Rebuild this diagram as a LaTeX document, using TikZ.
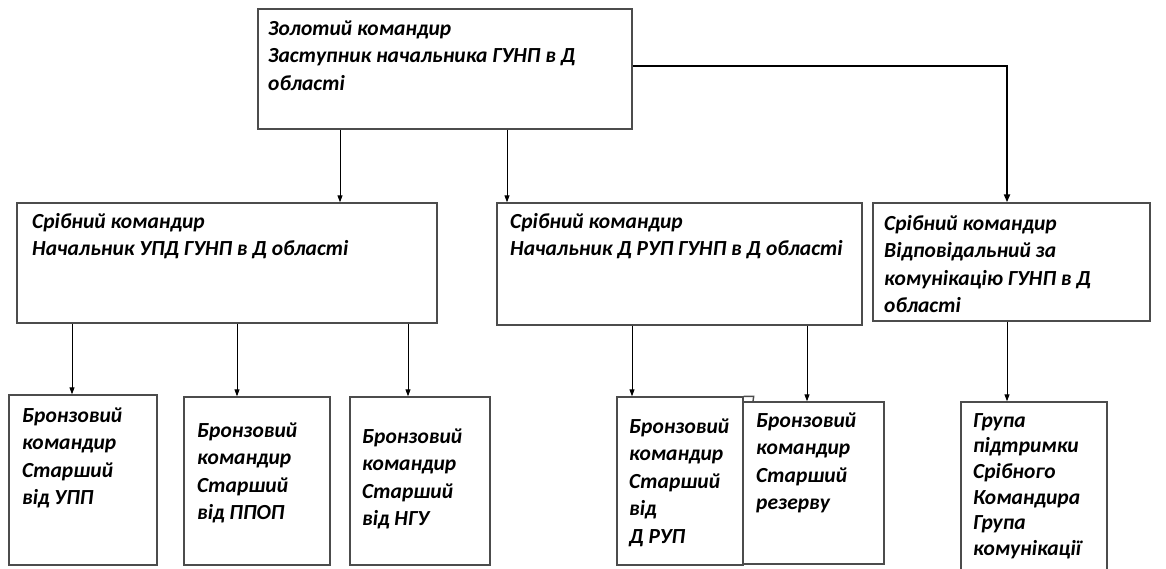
\documentclass[tikz,border=0pt]{standalone}
\usepackage{fontspec}
\setmainfont{Carlito}
\usetikzlibrary{fit,calc,arrows.meta}
\newcommand{\fl}{\rule{0pt}{16pt}}
\begin{document}
\begin{tikzpicture}[x=1pt,y=-1pt,
  box/.style={draw=black!70,line width=1.4pt,inner sep=0pt,fill=none},
  txt/.style={anchor=north west,inner sep=0pt,align=left,font=\fontsize{21.5}{27.5}\selectfont\bfseries\itshape,text=black},
  arr/.style={draw=black,line width=0.9pt,-{Triangle[length=7pt,width=5pt]}},
  thick arr/.style={draw=black,line width=2.4pt,-{Triangle[length=8pt,width=6pt]}}]
\useasboundingbox (0,0) rectangle (1166,568);
% boxes
\node[box,fit={(258,9) (632,129)}] (G) {};
\node[box,fit={(17,203) (437,323)}] (S1) {};
\node[box,fit={(497,203) (862,325)}] (S2) {};
\node[box,fit={(873,203) (1150,321)}] (S3) {};
\node[box,fit={(9,395) (157,565)}] (B1) {};
\node[box,fit={(184,397) (330,565)}] (B2) {};
\node[box,fit={(350,397) (490,565)}] (B3) {};
\node[box,fit={(617,397) (743,565)}] (B4) {};
\node[box,fit={(743,402) (884,564)}] (B5) {};
\node[box,fit={(961,402) (1107,580)}] (B6) {};
\draw[draw=black!70,line width=1.4pt] (B4.north east) -- ++(10,0) -- (B5.north west -| 753,0);
% texts (y = first baseline - 16)
\node[txt] (tG) at (268,19) {\fl Золотий командир\\Заступник начальника ГУНП в Д\\області};
\node[txt] (tS1) at (32,212) {\fl Срібний командир\\Начальник УПД ГУНП в Д області};
\node[txt] (tS2) at (510,212) {\fl Срібний командир\\Начальник Д РУП ГУНП в Д області};
\node[txt] (tS3) at (884,214) {\fl Срібний командир\\Відповідальний за\\комунікацію ГУНП в Д\\області};
\node[txt] (tB1) at (22,406) {\fl Бронзовий\\командир\\Старший\\від УПП};
\node[txt] (tB2) at (197,421) {\fl Бронзовий\\командир\\Старший\\від ППОП};
\node[txt] (tB3) at (362,427) {\fl Бронзовий\\командир\\Старший\\від НГУ};
\node[txt] (tB4) at (629,417) {\fl Бронзовий\\командир\\Старший\\від\\Д РУП};
\node[txt] (tB5) at (756,411) {\fl Бронзовий\\командир\\Старший\\резерву};
\node[txt, font=\fontsize{21.5}{25.6}\selectfont\bfseries\itshape] (tB6) at (973,411) {\fl Група\\підтримки\\Срібного\\Командира\\Група\\комунікації};
% connectors
\draw[arr] (G.south -| 340,0) -- (S1.north -| 340,0);
\draw[arr] (G.south -| 507,0) -- (S2.north -| 507,0);
\draw[thick arr] (G.east |- 0,66) -| (S3.north -| 1007,0);
\draw[arr] (S1.south -| 72,0) -- (B1.north -| 72,0);
\draw[arr] (S1.south -| 237,0) -- (B2.north -| 237,0);
\draw[arr] (S1.south -| 408,0) -- (B3.north -| 408,0);
\draw[arr] (S2.south -| 632,0) -- (B4.north -| 632,0);
\draw[arr] (S2.south -| 807,0) -- (B5.north -| 807,0);
\draw[arr] (S3.south -| 1007,0) -- (B6.north -| 1007,0);
\end{tikzpicture}
\end{document}
